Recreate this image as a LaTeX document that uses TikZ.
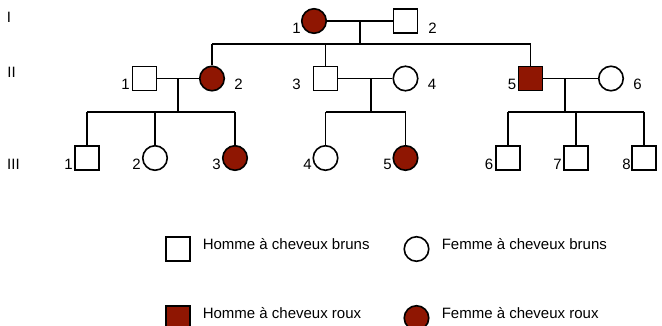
\documentclass[tikz,border=0pt]{standalone}
\usepackage{fontspec}
\setmainfont{Liberation Sans}
\definecolor{roux}{RGB}{143,22,2}
\begin{document}
\begin{tikzpicture}[x=1pt,y=-1pt,line width=1.6pt,
  male/.style={draw,rectangle,minimum size=24pt,inner sep=0pt,fill=white},
  female/.style={draw,circle,minimum size=24.5pt,inner sep=0pt,fill=white},
  affected/.style={fill=roux},
  lbl/.style={font=\fontsize{15}{18}\selectfont,inner sep=0pt},
  legtext/.style={font=\fontsize{15}{18}\selectfont,inner sep=0pt,anchor=base west}]
\useasboundingbox (0,0) rectangle (662,325);
\clip (0,0) rectangle (662,325);
% generation labels
\node[lbl] (gI) at (9,17) {I};
\node[lbl] (gII) at (11.5,72.5) {II};
\node[lbl] (gIII) at (13.5,164.5) {III};
% coordinates
\coordinate (mI) at (360,21);
\coordinate (sI) at (360,44);
\coordinate (mIIa) at (178,78.5);
\coordinate (sIIa) at (178,112);
\coordinate (mIIb) at (371,78.5);
\coordinate (sIIb) at (371,112);
\coordinate (mIIc) at (565,78.5);
\coordinate (sIIc) at (565,112);
% nodes generation I
\node[female,affected] (I1) at (314,21) {};
\node[male] (I2) at (405.5,21) {};
% generation II
\node[male] (II1) at (144.5,78.5) {};
\node[female,affected] (II2) at (212,78.5) {};
\node[male] (II3) at (325.5,78.5) {};
\node[female] (II4) at (405.5,78.5) {};
\node[male,affected] (II5) at (530.5,78.5) {};
\node[female] (II6) at (611,78.5) {};
% generation III
\node[male] (III1) at (87,158) {};
\node[female] (III2) at (155,158) {};
\node[female,affected] (III3) at (235,158) {};
\node[female] (III4) at (325.5,158) {};
\node[female,affected] (III5) at (405.5,158) {};
\node[male] (III6) at (508,158) {};
\node[male] (III7) at (576,158) {};
\node[male] (III8) at (644,158) {};
% connectors
\draw (I1.east) -- (I2.west);
\draw (mI) -- (sI);
\draw (II2 |- sI) -- (II5 |- sI);
\draw (II2 |- sI) -- (II2.north);
\draw (II3 |- sI) -- (II3.north);
\draw (II5 |- sI) -- (II5.north);
\draw (II1.east) -- (II2.west);
\draw (II3.east) -- (II4.west);
\draw (II5.east) -- (II6.west);
\draw (mIIa) -- (sIIa);
\draw (mIIb) -- (sIIb);
\draw (mIIc) -- (sIIc);
\draw (III1 |- sIIa) -- (III3 |- sIIa);
\draw (III1 |- sIIa) -- (III1.north);
\draw (III2 |- sIIa) -- (III2.north);
\draw (III3 |- sIIa) -- (III3.north);
\draw (III4 |- sIIb) -- (III5 |- sIIb);
\draw (III4 |- sIIb) -- (III4.north);
\draw (III5 |- sIIb) -- (III5.north);
\draw (III6 |- sIIc) -- (III8 |- sIIc);
\draw (III6 |- sIIc) -- (III6.north);
\draw (III7 |- sIIc) -- (III7.north);
\draw (III8 |- sIIc) -- (III8.north);
% redraw shapes on top
% number labels
\node[lbl] (lI1) at (296.5,28) {1};
\node[lbl] (lI2) at (432.5,28) {2};
\node[lbl] (lII1) at (125.5,84) {1};
\node[lbl] (lII2) at (238.5,84) {2};
\node[lbl] (lII3) at (296.5,84) {3};
\node[lbl] (lII4) at (432,84) {4};
\node[lbl] (lII5) at (512,84) {5};
\node[lbl] (lII6) at (637.5,84) {6};
\node[lbl] (lIII1) at (68.5,164.5) {1};
\node[lbl] (lIII2) at (136.5,164.5) {2};
\node[lbl] (lIII3) at (216.5,164.5) {3};
\node[lbl] (lIII4) at (307.5,164.5) {4};
\node[lbl] (lIII5) at (387.5,164.5) {5};
\node[lbl] (lIII6) at (489,164.5) {6};
\node[lbl] (lIII7) at (557.5,164.5) {7};
\node[lbl] (lIII8) at (626.5,164.5) {8};
% legend
\node[male] (Lm) at (178,249) {};
\node[legtext] (Lmt) at (202,249) {Homme à cheveux bruns};
\node[female] (Lf) at (416.5,249) {};
\node[legtext] (Lft) at (441,249) {Femme à cheveux bruns};
\node[male,affected] (Lma) at (178,318) {};
\node[legtext] (Lmat) at (202,318) {Homme à cheveux roux};
\node[female,affected] (Lfa) at (416.5,318) {};
\node[legtext] (Lfat) at (441,318) {Femme à cheveux roux};
\end{tikzpicture}
\end{document}
